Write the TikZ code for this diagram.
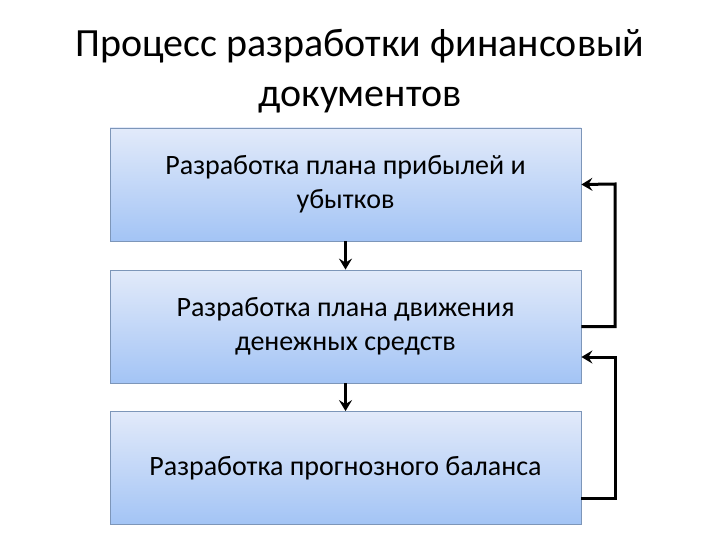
\documentclass[tikz,border=0pt]{standalone}
\usepackage{fontspec}
\setmainfont{Carlito}
\usetikzlibrary{arrows.meta}
\definecolor{boxtop}{RGB}{226,234,250}
\definecolor{boxbot}{RGB}{163,196,245}
\definecolor{boxline}{RGB}{125,150,185}
\tikzset{
  stepbox/.style={draw=boxline, line width=0.8pt, top color=boxtop, bottom color=boxbot,
    minimum width=471pt, minimum height=113pt, align=center, font=\fontsize{28}{34}\selectfont, inner sep=0pt},
  flow/.style={line width=3pt, -{Stealth[length=11pt,width=13pt,inset=4pt]}},
}
\begin{document}
\begin{tikzpicture}[x=1pt,y=-1pt]
\useasboundingbox (0,0) rectangle (720,540);
\node[align=center, font=\fontsize{40}{50}\selectfont] (title) at (360,71) {Процесс разработки финансовый\\документов};
\node[stepbox] (b1) at (345.5,184.5) {Разработка плана прибылей и\\убытков};
\node[stepbox] (b2) at (345.5,326.5) {Разработка плана движения\\денежных средств};
\node[stepbox] (b3) at (345.5,468) {Разработка прогнозного баланса};
\draw[flow] (b1.south) -- (b2.north);
\draw[flow] (b2.south) -- (b3.north);
\coordinate (r1) at (615,184);
\coordinate (r2) at (615,357);
\draw[flow] (b2.east) -| (r1) -- (b1.east);
\draw[flow] (b3.east |- 0,498) -| (r2) -- (b2.east |- 0,357);
\end{tikzpicture}
\end{document}
